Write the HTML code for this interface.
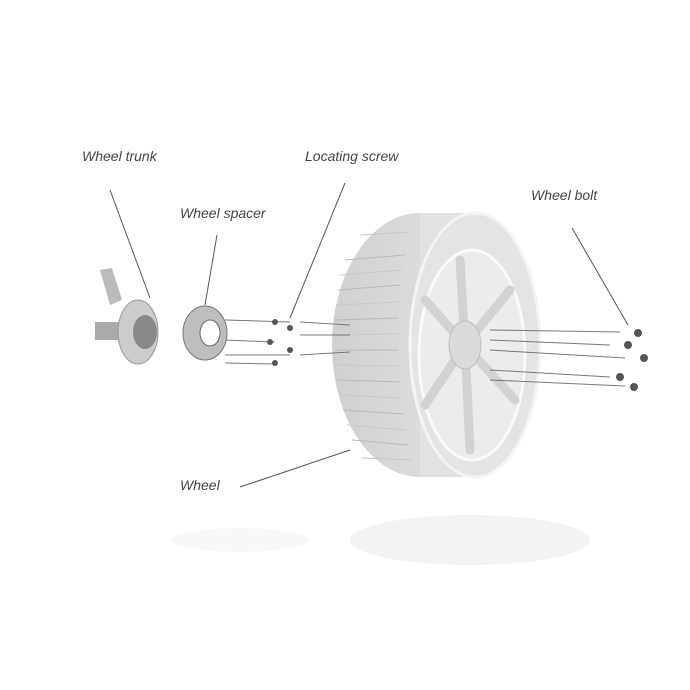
<!DOCTYPE html><html><head><style>body{margin:0;background:#fff}svg{display:block}text{font-family:"Liberation Sans",sans-serif;font-style:italic;font-size:14px;fill:#444}</style></head><body>
<svg width="690" height="690" viewBox="0 0 690 690">
<defs><linearGradient id="tg" x1="0" x2="1"><stop offset="0" stop-color="#d0d0d0"/><stop offset="1" stop-color="#e6e6e6"/></linearGradient></defs>
<ellipse cx="470" cy="540" rx="120" ry="25" fill="#f3f3f3"/>
<ellipse cx="240" cy="540" rx="70" ry="12" fill="#f8f8f8"/>
<!-- tire -->
<ellipse cx="420" cy="345" rx="88" ry="132" fill="url(#tg)"/>
<rect x="420" y="213" width="55" height="264" fill="#e2e2e2"/>
<ellipse cx="475" cy="345" rx="65" ry="132" fill="#e4e4e4" stroke="#f4f4f4" stroke-width="3"/>
<g stroke="#b8b8b8" stroke-width="1" fill="none">
<path d="M345 260 L405 255 M338 290 L400 285 M335 320 L398 318 M335 350 L398 350 M337 380 L400 382 M343 410 L403 414 M352 440 L408 445"/>
<path d="M360 235 L410 232 M340 275 L402 270 M336 305 L399 302 M335 335 L398 334 M335 365 L398 366 M340 395 L401 398 M347 425 L405 430 M362 458 L412 460" stroke="#c8c8c8"/>
</g>
<ellipse cx="472" cy="355" rx="53" ry="105" fill="#ececec" stroke="#fafafa" stroke-width="3"/>
<g stroke="#d2d2d2" stroke-width="9" stroke-linecap="round">
<line x1="465" y1="345" x2="460" y2="260"/><line x1="465" y1="345" x2="510" y2="290"/><line x1="465" y1="345" x2="515" y2="400"/><line x1="465" y1="345" x2="470" y2="450"/><line x1="465" y1="345" x2="425" y2="405"/><line x1="465" y1="345" x2="425" y2="300"/>
</g>
<ellipse cx="465" cy="345" rx="16" ry="24" fill="#dadada" stroke="#bbb"/>
<!-- bolt lines -->
<g stroke="#777" stroke-width="1">
<line x1="225" y1="320" x2="290" y2="322"/><line x1="225" y1="340" x2="275" y2="342"/><line x1="225" y1="355" x2="290" y2="355"/><line x1="225" y1="363" x2="275" y2="364"/>
<line x1="300" y1="322" x2="350" y2="325"/><line x1="300" y1="335" x2="350" y2="335"/><line x1="300" y1="355" x2="350" y2="352"/>
<line x1="490" y1="330" x2="620" y2="332"/><line x1="490" y1="340" x2="610" y2="345"/><line x1="490" y1="350" x2="625" y2="358"/><line x1="490" y1="370" x2="610" y2="377"/><line x1="490" y1="380" x2="625" y2="386"/>
</g>
<g fill="#555"><circle cx="638" cy="333" r="4"/><circle cx="628" cy="345" r="4"/><circle cx="644" cy="358" r="4"/><circle cx="620" cy="377" r="4"/><circle cx="634" cy="387" r="4"/>
<circle cx="275" cy="322" r="3"/><circle cx="290" cy="328" r="3"/><circle cx="270" cy="342" r="3"/><circle cx="290" cy="350" r="3"/><circle cx="275" cy="363" r="3"/></g>
<!-- hub -->
<path d="M100 270 L112 268 L122 300 L110 305Z" fill="#bbb"/>
<rect x="95" y="322" width="30" height="18" fill="#aaa"/>
<ellipse cx="138" cy="332" rx="20" ry="32" fill="#ccc" stroke="#999"/>
<ellipse cx="145" cy="332" rx="12" ry="17" fill="#888"/>
<!-- spacer -->
<ellipse cx="205" cy="333" rx="22" ry="27" fill="#bdbdbd" stroke="#777"/>
<ellipse cx="210" cy="333" rx="10" ry="13" fill="#fff" stroke="#666"/>
<!-- leaders -->
<g stroke="#555" stroke-width="1">
<line x1="110" y1="190" x2="150" y2="298"/><line x1="217" y1="235" x2="205" y2="305"/><line x1="345" y1="183" x2="290" y2="318"/><line x1="572" y1="228" x2="628" y2="325"/><line x1="240" y1="487" x2="350" y2="450"/>
</g>
<text x="82" y="161">Wheel trunk</text>
<text x="305" y="161">Locating screw</text>
<text x="180" y="218">Wheel spacer</text>
<text x="531" y="200">Wheel bolt</text>
<text x="180" y="490">Wheel</text>
</svg></body></html>
